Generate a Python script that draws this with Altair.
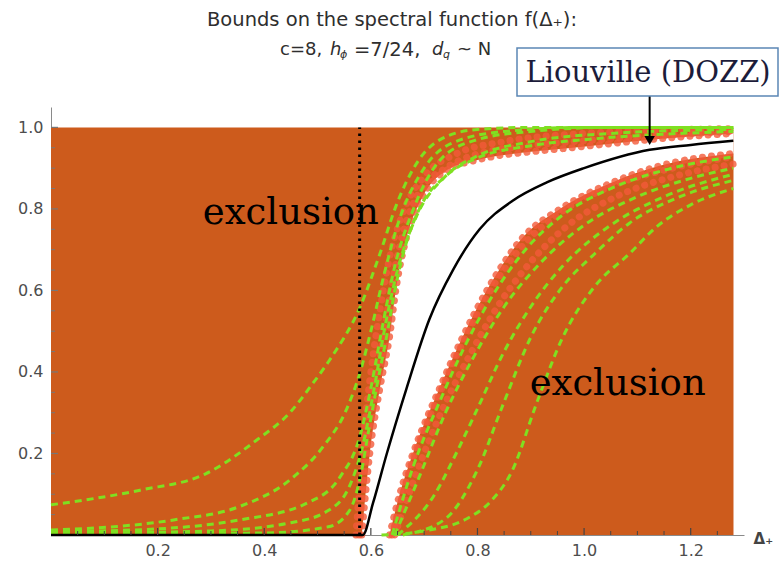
import altair as alt
import pandas as pd

# ---------------- data (Δ, f) ----------------
# allowed-region boundaries
U_x = [0.583, 0.598, 0.617, 0.635, 0.648, 0.667, 0.697, 0.742, 0.80, 0.90, 0.954, 1.05, 1.15, 1.28]
U_y = [0.0, 0.20, 0.36, 0.485, 0.61, 0.73, 0.83, 0.895, 0.92, 0.94, 0.947, 0.96, 0.973, 0.985]
L_x = [0.635, 0.654, 0.679, 0.729, 0.772, 0.822, 0.885, 0.955, 1.053, 1.14, 1.28]
L_y = [0.0, 0.10, 0.20, 0.36, 0.485, 0.61, 0.73, 0.80, 0.865, 0.905, 0.936]

# Liouville (DOZZ) curve
B_x = [0.0, 0.585, 0.604, 0.63, 0.667, 0.71, 0.754, 0.804, 0.866, 0.93, 1.0, 1.123, 1.2, 1.28]
B_y = [0.0, 0.0, 0.078, 0.20, 0.36, 0.53, 0.65, 0.75, 0.82, 0.865, 0.90, 0.945, 0.957, 0.967]

# green dashed sequences (left family)
GL1_x = [0.0, 0.167, 0.29, 0.386, 0.448, 0.49, 0.523, 0.58, 0.617, 0.648, 0.69, 0.73, 0.80, 0.90, 1.28]
GL1_y = [0.074, 0.11, 0.15, 0.233, 0.30, 0.37, 0.43, 0.56, 0.69, 0.81, 0.92, 0.97, 0.995, 1.0, 1.0]
GL2_x = [0.0, 0.23, 0.354, 0.448, 0.51, 0.555, 0.58, 0.60, 0.625, 0.65, 0.70, 0.75, 0.85, 1.0, 1.28]
GL2_y = [0.012, 0.037, 0.07, 0.135, 0.216, 0.31, 0.40, 0.50, 0.64, 0.76, 0.90, 0.96, 0.99, 1.0, 1.0]
GL3_x = [0.0, 0.2, 0.354, 0.48, 0.542, 0.579, 0.60, 0.62, 0.645, 0.68, 0.73, 0.80, 0.90, 1.05, 1.28]
GL3_y = [0.008, 0.015, 0.037, 0.078, 0.142, 0.24, 0.36, 0.50, 0.66, 0.80, 0.92, 0.97, 0.99, 1.0, 1.0]
GL4_x = [0.0, 0.30, 0.45, 0.52, 0.56, 0.585, 0.605, 0.625, 0.65, 0.685, 0.74, 0.80, 0.90, 1.05, 1.28]
GL4_y = [0.004, 0.01, 0.03, 0.06, 0.12, 0.22, 0.35, 0.50, 0.65, 0.78, 0.88, 0.93, 0.965, 0.985, 0.995]
GL5_x = [0.0, 0.40, 0.52, 0.56, 0.58, 0.595, 0.612, 0.63, 0.645, 0.665, 0.695, 0.74, 0.80, 0.90, 1.02, 1.28]
GL5_y = [0.002, 0.005, 0.02, 0.06, 0.14, 0.25, 0.37, 0.49, 0.60, 0.71, 0.81, 0.88, 0.925, 0.955, 0.972, 0.99]

# green dashed sequences (right family)
GR1_x = [0.64, 0.68, 0.73, 0.775, 0.825, 0.89, 0.96, 1.05, 1.15, 1.28]
GR1_y = [0.0, 0.17, 0.33, 0.46, 0.58, 0.70, 0.785, 0.85, 0.895, 0.928]
GR2_x = [0.645, 0.69, 0.74, 0.79, 0.85, 0.92, 1.0, 1.1, 1.2, 1.28]
GR2_y = [0.0, 0.14, 0.30, 0.43, 0.56, 0.67, 0.76, 0.83, 0.875, 0.90]
GR3_x = [0.65, 0.72, 0.76, 0.80, 0.85, 0.90, 0.96, 1.05, 1.15, 1.28]
GR3_y = [0.0, 0.10, 0.20, 0.31, 0.45, 0.56, 0.66, 0.76, 0.83, 0.885]
GR4_x = [0.66, 0.74, 0.80, 0.848, 0.90, 0.96, 1.02, 1.085, 1.18, 1.28]
GR4_y = [0.0, 0.04, 0.16, 0.32, 0.485, 0.61, 0.69, 0.765, 0.83, 0.87]
GR5_x = [0.62, 0.70, 0.78, 0.823, 0.866, 0.91, 0.96, 1.02, 1.085, 1.135, 1.2, 1.28]
GR5_y = [0.0, 0.01, 0.04, 0.08, 0.16, 0.32, 0.485, 0.61, 0.69, 0.755, 0.81, 0.85]

# red dotted sequences hugging the boundaries
RU1_x = [0.578, 0.59, 0.607, 0.625, 0.64, 0.66, 0.69, 0.74, 0.80, 0.90, 1.05, 1.28]
RU1_y = [0.0, 0.20, 0.36, 0.50, 0.62, 0.74, 0.84, 0.90, 0.935, 0.955, 0.972, 0.99]
RU2_x = [0.572, 0.585, 0.60, 0.617, 0.635, 0.66, 0.70, 0.76, 0.85, 1.0, 1.28]
RU2_y = [0.0, 0.22, 0.40, 0.55, 0.68, 0.79, 0.88, 0.935, 0.965, 0.985, 0.997]
RL1_x = [0.64, 0.675, 0.725, 0.77, 0.82, 0.885, 0.955, 1.05, 1.15, 1.28]
RL1_y = [0.0, 0.17, 0.335, 0.465, 0.59, 0.71, 0.79, 0.855, 0.895, 0.928]
RL2_x = [0.645, 0.685, 0.735, 0.785, 0.84, 0.90, 0.97, 1.06, 1.17, 1.28]
RL2_y = [0.0, 0.15, 0.31, 0.44, 0.565, 0.67, 0.76, 0.83, 0.88, 0.91]

# axis ticks
x_major = [0.2, 0.4, 0.6, 0.8, 1.0, 1.2]
x_minor = [0.05, 0.1, 0.15, 0.25, 0.3, 0.35, 0.45, 0.5, 0.55, 0.65, 0.7, 0.75,
           0.85, 0.9, 0.95, 1.05, 1.1, 1.15, 1.25]
y_major = [0.2, 0.4, 0.6, 0.8, 1.0]
y_minor = [0.05, 0.1, 0.15, 0.25, 0.3, 0.35, 0.45, 0.5, 0.55, 0.65, 0.7, 0.75,
           0.85, 0.9, 0.95]

# positions of annotations (data coordinates)
delta_star = 0.579
plot_xmax = 1.28
label1 = ("exclusion", 0.45, 0.79)
label2 = ("exclusion", 1.063, 0.37)
arrow_x, arrow_tip = 1.123, 0.955

ORANGE = "#CD5B1C"
GREEN = "#7FE021"
RED = "#F25A3A"

W, H = 693, 428
XS = alt.Scale(domain=[0, 1.3], nice=False, zero=False)
YS = alt.Scale(domain=[0, 1.05], nice=False, zero=False)
SERIF = "DejaVu Serif"
SANS = "DejaVu Sans"

def curves(d):
    rows = []
    for name, (xs, ys) in d.items():
        for i, (a, b) in enumerate(zip(xs, ys)):
            rows.append({"x": a, "y": b, "c": name, "i": i})
    return pd.DataFrame(rows)

X = alt.X("x:Q", scale=XS, axis=alt.Axis(values=x_major, format=".1f", title=None, ticks=False,
          grid=False, domainColor="#8a8a8a", labelFont=SANS, labelFontSize=16,
          labelColor="#4d4d4d", labelPadding=7))
Y = alt.Y("y:Q", scale=YS, axis=alt.Axis(values=y_major, format=".1f", title=None, ticks=False,
          grid=False, domainColor="#8a8a8a", labelFont=SANS, labelFontSize=16,
          labelColor="#4d4d4d", labelPadding=8))

bg = alt.Chart(pd.DataFrame({"x": [0.0], "x2": [plot_xmax], "y": [0.0], "y2": [1.0]})).mark_rect(
    color=ORANGE).encode(x=X, x2="x2:Q", y=Y, y2="y2:Q")

white = alt.Chart(pd.DataFrame({"x": U_x, "y": U_y})).mark_area(
    color="white", interpolate="monotone", opacity=1).encode(
    x=alt.X("x:Q", scale=XS), y=alt.Y("y:Q", scale=YS, stack=None), y2=alt.datum(0))

lower = alt.Chart(pd.DataFrame({"x": L_x, "y": L_y})).mark_area(
    color=ORANGE, interpolate="monotone", opacity=1).encode(
    x=alt.X("x:Q", scale=XS), y=alt.Y("y:Q", scale=YS, stack=None), y2=alt.datum(0))

red_df = curves({"U": (U_x, U_y), "RU1": (RU1_x, RU1_y), "RU2": (RU2_x, RU2_y),
                 "L": (L_x, L_y), "RL1": (RL1_x, RL1_y), "RL2": (RL2_x, RL2_y)})
red = alt.Chart(red_df).mark_line(
    color=RED, strokeWidth=7, strokeDash=[0.1, 9], strokeCap="round", opacity=0.8,
    interpolate="monotone").encode(
    x=alt.X("x:Q", scale=XS), y=alt.Y("y:Q", scale=YS), detail="c:N", order="i:Q")

green_df = curves({"GL1": (GL1_x, GL1_y), "GL2": (GL2_x, GL2_y), "GL3": (GL3_x, GL3_y),
                   "GL4": (GL4_x, GL4_y), "GL5": (GL5_x, GL5_y),
                   "GR1": (GR1_x, GR1_y), "GR2": (GR2_x, GR2_y), "GR3": (GR3_x, GR3_y),
                   "GR4": (GR4_x, GR4_y), "GR5": (GR5_x, GR5_y)})
green = alt.Chart(green_df).mark_line(
    color=GREEN, strokeWidth=3, strokeDash=[7, 5], interpolate="monotone").encode(
    x=alt.X("x:Q", scale=XS), y=alt.Y("y:Q", scale=YS), detail="c:N", order="i:Q")

black = alt.Chart(pd.DataFrame({"x": B_x, "y": B_y})).mark_line(
    color="black", strokeWidth=2.5, interpolate="monotone").encode(
    x=alt.X("x:Q", scale=XS), y=alt.Y("y:Q", scale=YS))

vline = alt.Chart(pd.DataFrame({"x": [delta_star]})).mark_rule(
    color="black", strokeWidth=3, strokeDash=[2.5, 4.5]).encode(
    x=alt.X("x:Q", scale=XS), y=alt.datum(0), y2=alt.datum(1.0))

xt_major = alt.Chart(pd.DataFrame({"x": x_major})).mark_rule(color="#444", strokeWidth=1.2).encode(
    x=alt.X("x:Q", scale=XS), y=alt.value(H), y2=alt.value(H - 7))
xt_minor = alt.Chart(pd.DataFrame({"x": x_minor})).mark_rule(color="#444", strokeWidth=1).encode(
    x=alt.X("x:Q", scale=XS), y=alt.value(H), y2=alt.value(H - 4))
yt_major = alt.Chart(pd.DataFrame({"y": y_major})).mark_rule(color="#777", strokeWidth=1.2).encode(
    y=alt.Y("y:Q", scale=YS), x=alt.value(0), x2=alt.value(7))
yt_minor = alt.Chart(pd.DataFrame({"y": y_minor})).mark_rule(color="#777", strokeWidth=1).encode(
    y=alt.Y("y:Q", scale=YS), x=alt.value(0), x2=alt.value(4))

excl = alt.Chart(pd.DataFrame({"t": [label1[0], label2[0]], "x": [label1[1], label2[1]],
                               "y": [label1[2], label2[2]]})).mark_text(
    font=SERIF, fontSize=37, color="black", align="center", baseline="middle").encode(
    x=alt.X("x:Q", scale=XS), y=alt.Y("y:Q", scale=YS), text="t:N")

delta_lbl = alt.Chart(pd.DataFrame({"t": ["Δ₊"], "x": [1.318], "y": [-0.01]})).mark_text(
    font=SANS, fontSize=15, fontWeight="bold", color="#444", align="left", baseline="middle").encode(
    x=alt.X("x:Q", scale=XS), y=alt.Y("y:Q", scale=YS), text="t:N")

# title lines (pixel positions relative to plot origin)
title1 = alt.Chart(pd.DataFrame({"t": ["Bounds on the spectral function f(Δ₊):"]})).mark_text(
    font=SANS, fontSize=19.5, color="#2e2e2e", align="center", baseline="middle").encode(
    x=alt.value(341), y=alt.value(-87), text="t:N")

seg_normal = pd.DataFrame({
    "t": ["c=8,", "=7/24,", "~ N"],
    "px": [229, 303, 406],
    "py": [-57, -57, -57],
    "sz": [18, 19.5, 18],
})
seg_italic = pd.DataFrame({
    "t": ["h", "ϕ", "d", "q"],
    "px": [279, 289, 381, 392],
    "py": [-57, -52, -57, -52],
    "sz": [18, 11, 18, 11],
})
title2a = alt.Chart(seg_normal).mark_text(font=SANS, color="#2e2e2e", align="left",
                                          baseline="middle").encode(
    x=alt.X("px:Q", scale=None), y=alt.Y("py:Q", scale=None), text="t:N",
    size=alt.Size("sz:Q", scale=None, legend=None))
title2b = alt.Chart(seg_italic).mark_text(font=SANS, fontStyle="italic", color="#2e2e2e", align="left",
                                          baseline="middle").encode(
    x=alt.X("px:Q", scale=None), y=alt.Y("py:Q", scale=None), text="t:N",
    size=alt.Size("sz:Q", scale=None, legend=None))

box = alt.Chart(pd.DataFrame({"a": [0]})).mark_rect(
    fill="white", stroke="#5b87b5", strokeWidth=1.5).encode(
    x=alt.value(466), x2=alt.value(727), y=alt.value(-59), y2=alt.value(-11))
box_txt = alt.Chart(pd.DataFrame({"t": ["Liouville (DOZZ)"]})).mark_text(
    font=SERIF, fontSize=29, color="#1c1c3a", align="center", baseline="middle").encode(
    x=alt.value(597), y=alt.value(-34), text="t:N")

arrow = alt.Chart(pd.DataFrame({"x": [arrow_x], "y": [arrow_tip + 0.02]})).mark_rule(
    color="black", strokeWidth=2).encode(
    x=alt.X("x:Q", scale=XS), y=alt.Y("y:Q", scale=YS), y2=alt.value(-11))
arrow_head = alt.Chart(pd.DataFrame({"x": [arrow_x], "y": [arrow_tip + 0.013]})).mark_point(
    shape="triangle-down", filled=True, color="black", size=110, opacity=1).encode(
    x=alt.X("x:Q", scale=XS), y=alt.Y("y:Q", scale=YS))

chart = alt.layer(
    bg, white, lower, red, green, black, vline,
    xt_major, xt_minor, yt_major, yt_minor,
    excl, delta_lbl, title1, title2a, title2b, arrow, arrow_head, box, box_txt
).properties(
    width=W, height=H,
    autosize=alt.AutoSizeParams(type="none"),
    padding={"left": 51, "top": 107, "right": 36, "bottom": 29},
).configure_view(stroke=None)

chart.save("out.html", embed_options={"renderer": "svg", "actions": False})
